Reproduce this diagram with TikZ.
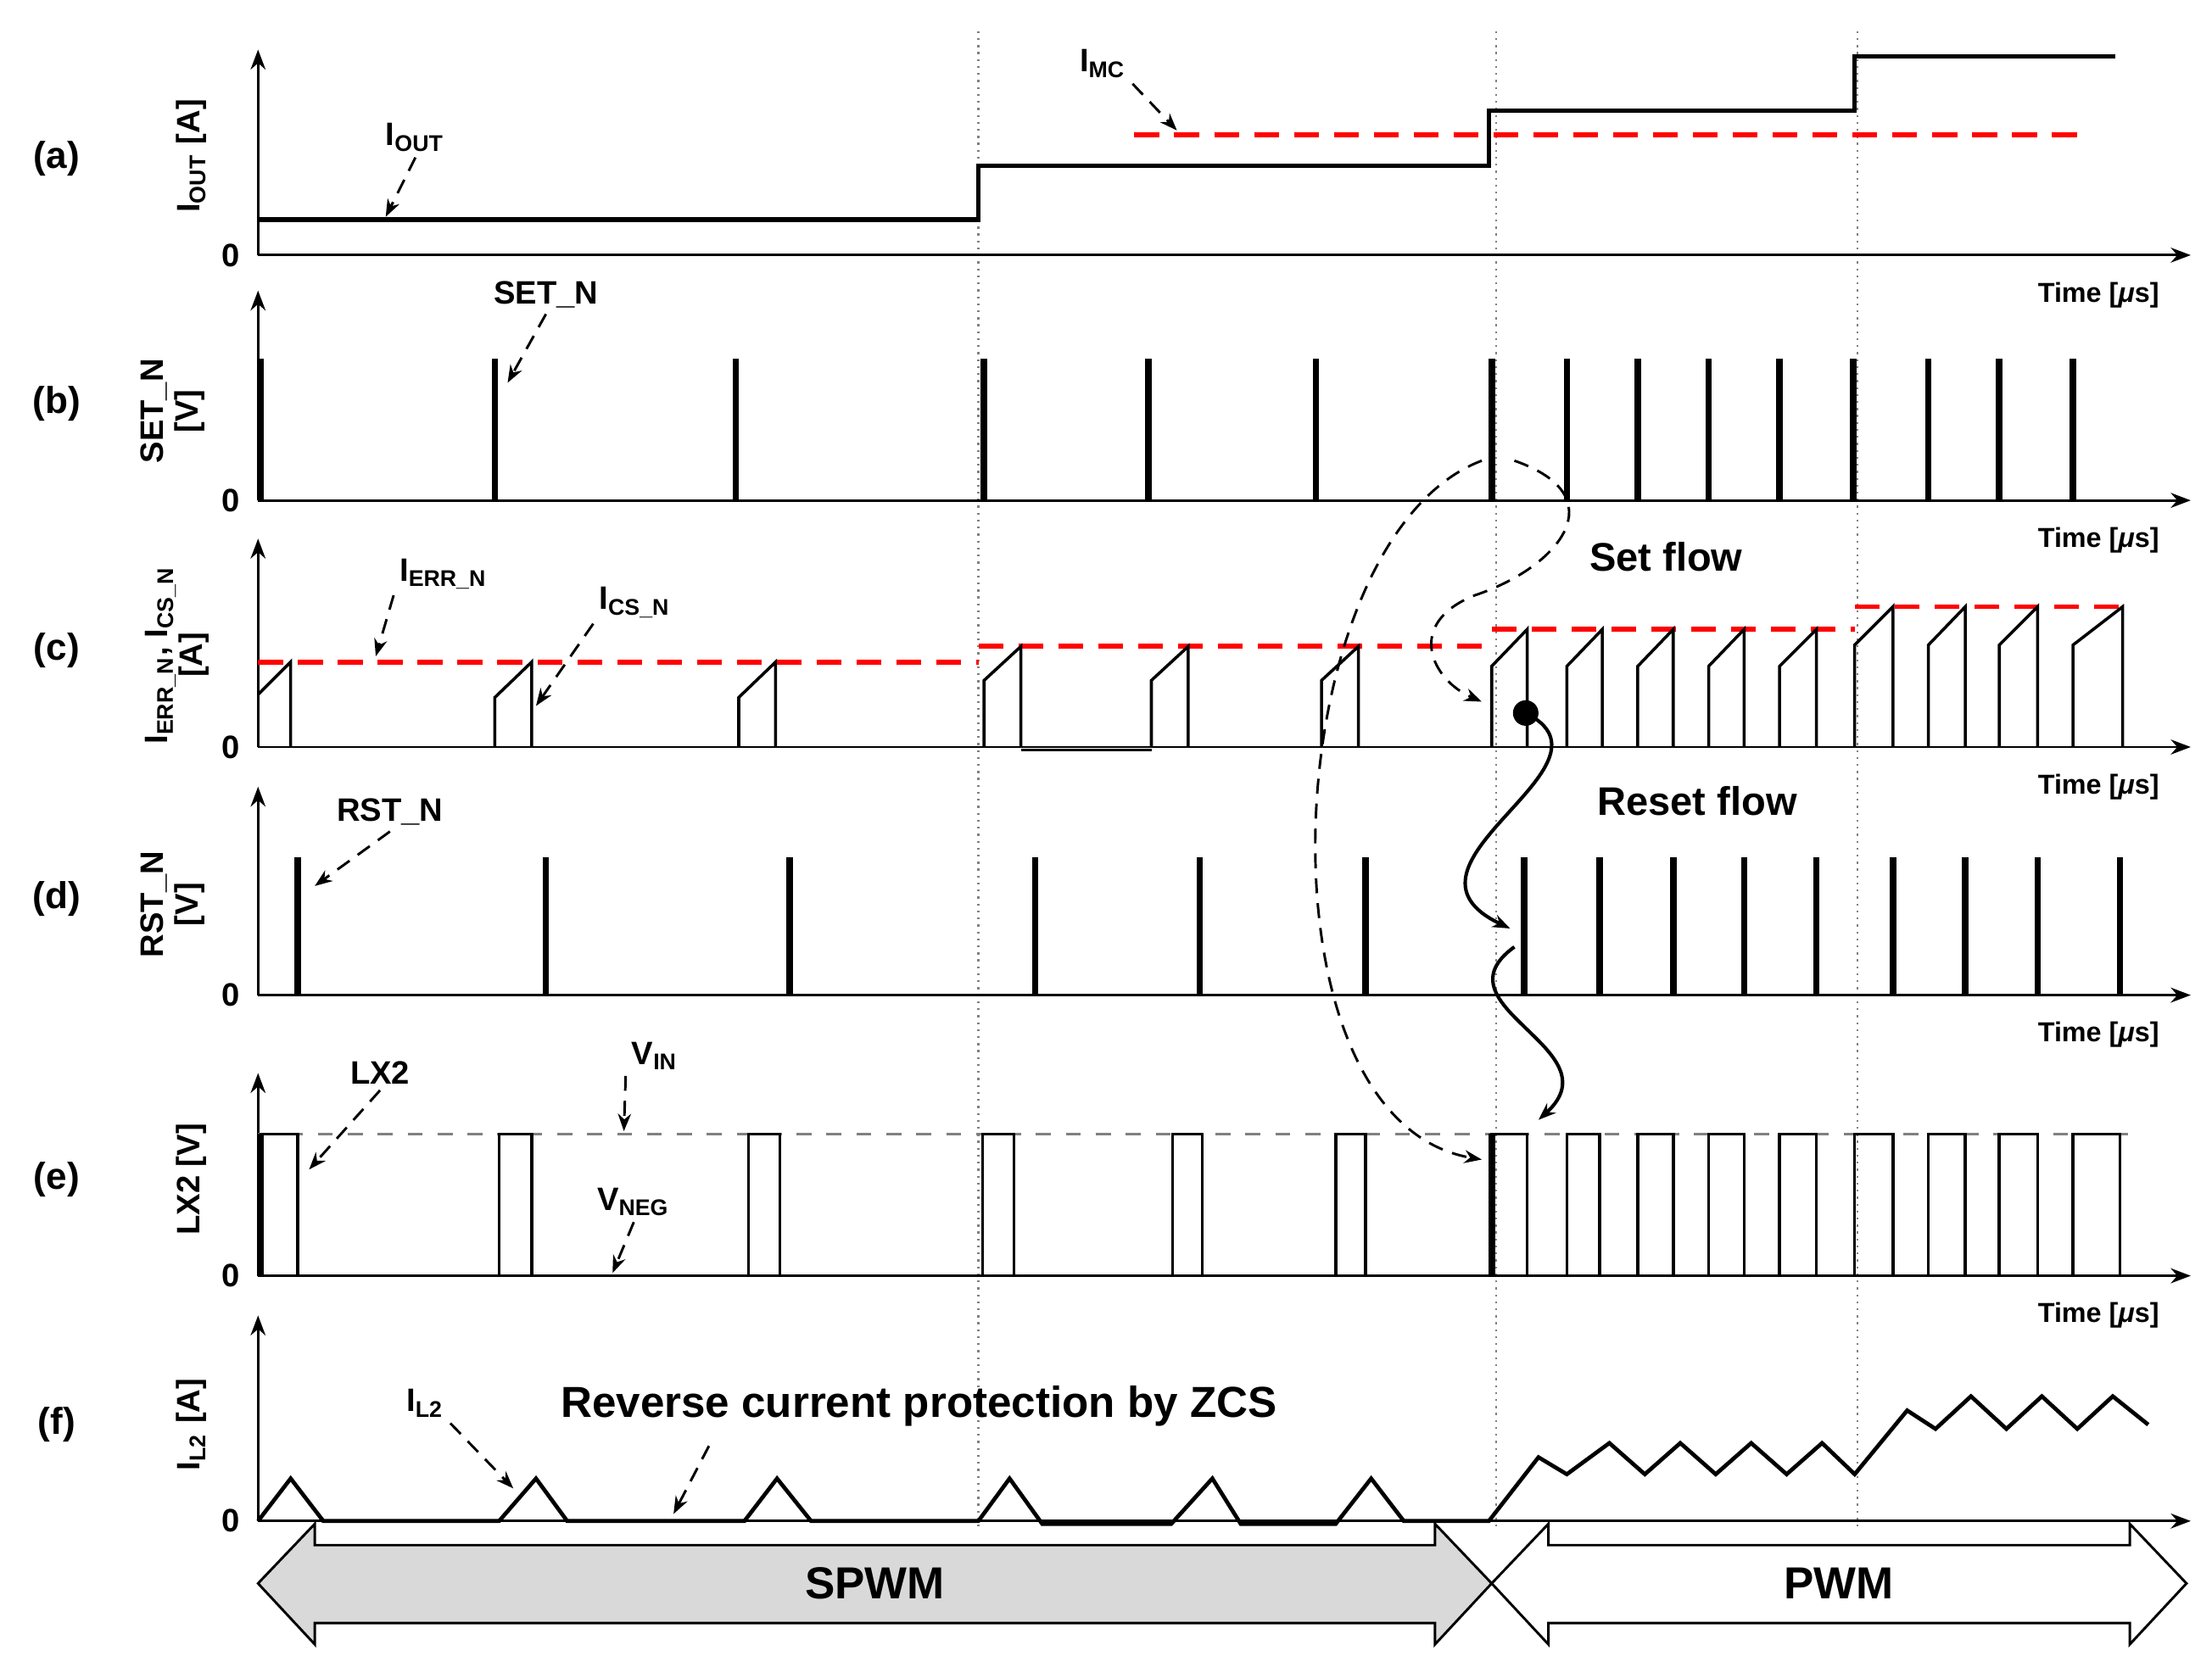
\documentclass[tikz,border=0pt]{standalone}
\usepackage{fontspec}
\setmainfont{Liberation Sans}
\usetikzlibrary{arrows.meta,positioning}
\tikzstyle{axis} = [draw, line width=0.5pt, -{Stealth[length=4pt]}]
\tikzstyle{sig} = [draw, line width=0.9pt]
\tikzstyle{pulse} = [draw, line width=1.3pt]
\tikzstyle{ref} = [draw, red, line width=1pt, dash pattern=on 5pt off 3pt]
\tikzstyle{pointer} = [draw, densely dashed, line width=0.5pt, -{Stealth[length=3.5pt]}]
\tikzstyle{lbl} = [font=\fontsize{6.5}{7}\selectfont\bfseries, inner sep=1pt]
\tikzstyle{tm} = [font=\fontsize{5.5}{6}\selectfont\bfseries, inner sep=0pt]
\tikzstyle{flow} = [font=\fontsize{8}{9}\selectfont\bfseries]
\tikzstyle{mode} = [draw, line width=0.5pt]
\newcommand{\sub}[1]{\textsubscript{#1}}
\newcommand{\modearrow}[3]{% left x, right x, style
    \path [#3] (#1,1117) -- (#1+40,1075) -- (#1+40,1090) -- (#2-40,1090) -- (#2-40,1075) -- (#2,1117)
        -- (#2-40,1160) -- (#2-40,1145) -- (#1+40,1145) -- (#1+40,1160) -- cycle;}
\begin{document}
\begin{tikzpicture}[x=0.01cm, y=-0.01cm]
    \useasboundingbox (0,0) rectangle (1560,1168);
    % separators
    \foreach \xs in {690,1055,1310}
        \draw [gray, densely dotted, line width=0.4pt] (\xs,22) -- (\xs,1080);
    % axes
    \foreach \yb/\yt/\tag in {180/35/a, 353/205/b, 527/380/c, 702/555/d, 900/757/e, 1073/928/f} {
        \path [axis] (182,\yb) -- (1545,\yb);
        \path [axis] (182,\yb) -- (182,\yt);
        \node [lbl] at (163,\yb) {0};
        \node [lbl, font=\fontsize{7.5}{8}\selectfont\bfseries] at (40,{\yb-68}) {(\tag)};
    }
    \foreach \yb in {180,353,527,702,900}
        \node [tm] at (1480,{\yb+28}) {Time [\textit{μ}s]};
    % y labels
    \node [lbl, rotate=90] at (135,110) {I\sub{OUT} [A]};
    \node [lbl, rotate=90, align=center] at (122,290) {SET\_N\\{[V]}};
    \node [lbl, rotate=90, align=center] at (125,462) {I\sub{ERR\_N}, I\sub{CS\_N}\\{[A]}};
    \node [lbl, rotate=90, align=center] at (122,638) {RST\_N\\{[V]}};
    \node [lbl, rotate=90] at (135,832) {LX2 [V]};
    \node [lbl, rotate=90] at (135,1005) {I\sub{L2} [A]};

    % (a)
    \path [sig] (182,155) -- (690,155) -- (690,117) -- (1050,117) -- (1050,78) -- (1308,78) -- (1308,40) -- (1492,40);
    \path [ref] (800,95) -- (1470,95);
    \node [lbl] (imc) at (778,45) {I\sub{MC}};
    \path [pointer] (imc.south east) -- (830,92);
    \node [lbl] (iout) at (293,97) {I\sub{OUT}};
    \path [pointer] (iout.south) -- (272,153);

    % (b)
    \foreach \xp in {184,349,519,694,810,928,1052,1105,1155,1205,1255,1307,1360,1410,1462}
        \path [pulse] (\xp,353) -- (\xp,253);
    \node [lbl] (setn) at (385,208) {SET\_N};
    \path [pointer] (setn.south) -- (358,270);

    % (c)
    \path [ref] (182,467) -- (690,467);
    \path [ref] (690,456) -- (1052,456);
    \path [ref] (1052,444) -- (1308,444);
    \path [ref] (1308,428) -- (1497,428);
    \draw [line width=0.6pt] (182,490) -- (205,467) -- (205,527);
    \foreach \xa/\xb/\ylo/\yhi in {349/375/492/467, 521/547/492/467, 694/720/480/456, 812/838/480/456, 932/958/480/456,
        1052/1077/470/444, 1105/1130/470/444, 1155/1180/470/444, 1205/1230/470/444, 1255/1281/470/444,
        1308/1335/455/428, 1360/1386/455/428, 1410/1437/455/428, 1462/1497/455/428}
        \draw [line width=0.6pt] (\xa,527) -- (\xa,\ylo) -- (\xb,\yhi) -- (\xb,527);
    \draw [line width=0.6pt] (720,529) -- (812,529);
    \node [lbl] (ierr) at (313,405) {I\sub{ERR\_N}};
    \path [pointer] (ierr.south west) -- (265,463);
    \node [lbl] (ics) at (448,425) {I\sub{CS\_N}};
    \path [pointer] (ics.south west) -- (378,498);

    % (d)
    \foreach \xp in {210,385,557,730,846,963,1075,1128,1180,1230,1281,1335,1386,1437,1495}
        \path [pulse] (\xp,702) -- (\xp,605);
    \node [lbl] (rstn) at (275,573) {RST\_N};
    \path [pointer] (rstn.south) -- (222,625);

    % (e)
    \draw [gray, dashed, line width=0.6pt] (182,800) -- (1510,800);
    \draw [line width=0.6pt] (182,900) -- (1495,900);
    \foreach \xa/\xb in {184/210,352/375,528/550,693/715,827/848,942/963,1052/1077,1105/1128,1155/1180,1205/1230,1255/1281,1308/1335,1360/1386,1410/1437,1462/1495}
        \draw [line width=0.6pt] (\xa,900) rectangle (\xb,800);
    \path [pulse] (184,900) -- (184,800);
    \path [pulse] (1052,900) -- (1052,800);
    \node [lbl] (lx) at (268,757) {LX2};
    \path [pointer] (lx.south) -- (218,825);
    \node [lbl] (vin) at (462,745) {V\sub{IN}};
    \path [pointer] (vin.south west) -- (440,798);
    \node [lbl] (vneg) at (447,848) {V\sub{NEG}};
    \path [pointer] (vneg.south) -- (432,898);

    % (f)
    \draw [line width=0.8pt] (182,1073) -- (205,1043) -- (228,1073) -- (352,1073) -- (378,1043) -- (400,1073) -- (525,1073) -- (548,1043) -- (572,1073)
        -- (690,1073) -- (712,1043) -- (735,1075) -- (826,1075) -- (855,1043) -- (875,1075) -- (942,1075) -- (967,1043) -- (990,1073) -- (1050,1073)
        -- (1085,1028) -- (1105,1040) -- (1135,1018) -- (1160,1040) -- (1185,1018) -- (1210,1040) -- (1235,1018) -- (1260,1040) -- (1285,1018) -- (1308,1040)
        -- (1345,995) -- (1365,1008) -- (1390,985) -- (1415,1008) -- (1440,985) -- (1465,1008) -- (1490,985) -- (1515,1005);
    \node [lbl] (il) at (300,990) {I\sub{L2}};
    \path [pointer] (il.south east) -- (362,1050);
    \node [flow, font=\fontsize{8.7}{9}\selectfont\bfseries] (zcs) at (648,992) {Reverse current protection by ZCS};
    \path [pointer] (500,1020) -- (475,1068);

    % flows
    \node [flow] (setf) at (1175,393) {Set flow};
    \node [flow] (rstf) at (1197,565) {Reset flow};
    \path [pointer] (1045,325) .. controls (900,380) and (880,790) .. (1045,818);
    \path [pointer] (1068,325) .. controls (1140,350) and (1100,400) .. (1040,420) .. controls (990,440) and (1010,480) .. (1045,495);
    \fill (1076,503) circle (9);
    \draw [line width=0.7pt, -{Stealth[length=3.5pt]}] (1076,503) .. controls (1150,540) and (970,610) .. (1065,655);
    \draw [line width=0.7pt, -{Stealth[length=3.5pt]}] (1068,668) .. controls (1010,710) and (1140,740) .. (1085,790);

    % modes
    \modearrow{182}{1052}{mode, fill=gray!30}
    \node [flow, font=\fontsize{9}{10}\selectfont\bfseries] (spwm) at (617,1117) {SPWM};
    \modearrow{1052}{1542}{mode, fill=white}
    \node [flow, font=\fontsize{9}{10}\selectfont\bfseries] (pwm) at (1297,1117) {PWM};
\end{tikzpicture}
\end{document}
